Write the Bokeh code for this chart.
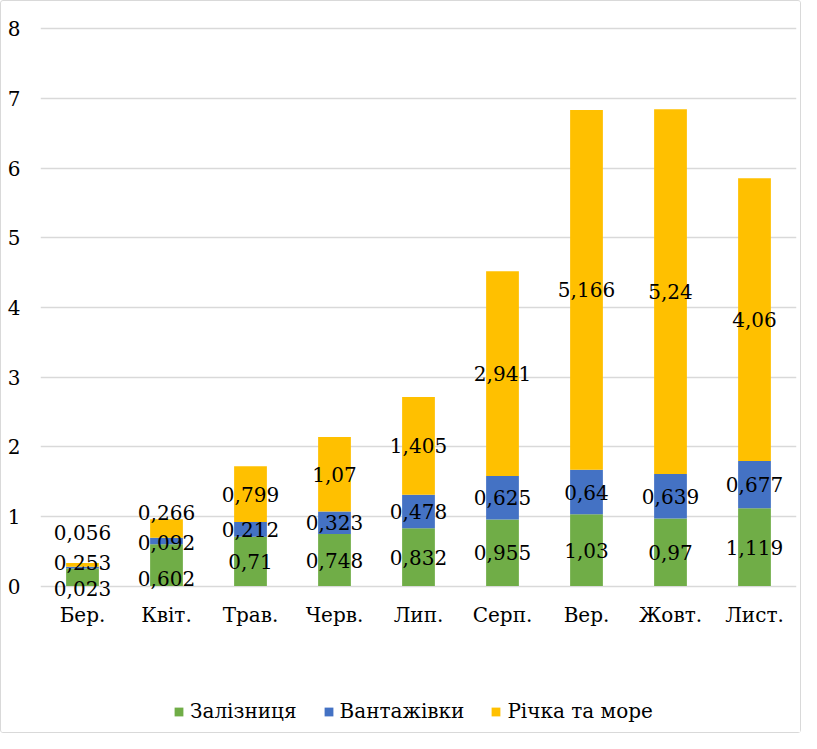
from bokeh.plotting import figure
from bokeh.models import ColumnDataSource, FixedTicker, Legend
from bokeh.embed import file_html
from bokeh.resources import INLINE
from bokeh.core.properties import value

months = ["Бер.", "Квіт.", "Трав.", "Черв.", "Лип.", "Серп.", "Вер.", "Жовт.", "Лист."]
rail = [0.253, 0.602, 0.71, 0.748, 0.832, 0.955, 1.03, 0.97, 1.119]
trucks = [0.023, 0.092, 0.212, 0.323, 0.478, 0.625, 0.64, 0.639, 0.677]
water = [0.056, 0.266, 0.799, 1.07, 1.405, 2.941, 5.166, 5.24, 4.06]
series_names = ["Залізниця", "Вантажівки", "Річка та море"]
y_ticks = [0, 1, 2, 3, 4, 5, 6, 7, 8]

colors = ["#70AD47", "#4472C4", "#FFC000"]
FONT = "DejaVu Serif"
FS = "20px"
CAT_LABEL_Y = -0.42   # category labels sit just under the zero line

nudge = {
    "rail": [-15, 13, 0, 0, 0, 0, 0, 0, 0],
    "trucks": [21, 2, 0, 0, 0, 0, 0, 0, 0],
    "water": [-32, -16, 0, 0, 0, 0, 0, 0, 0],
}

src = ColumnDataSource(dict(month=months, rail=rail, trucks=trucks, water=water))

# the frame reaches down to the legend row so that nothing below zero is clipped
p = figure(x_range=months, y_range=(-2.045, 8.05), frame_width=756, frame_height=703,
           output_backend="svg", toolbar_location=None,
           min_border_left=39, min_border_right=4, min_border_top=24, min_border_bottom=4)
p.styles = {"border": "1px solid #D9D9D9", "border-radius": "3px"}
p.outline_line_color = None

renderers = p.vbar_stack(["rail", "trucks", "water"], x="month", width=0.39,
                         color=colors, line_color=None, source=src)

keys = ["rail", "trucks", "water"]
vals = [rail, trucks, water]
base = [0.0] * len(months)
for key, v in zip(keys, vals):
    ys = [b + x / 2 for b, x in zip(base, v)]
    labels = [("%g" % x).replace(".", ",") for x in v]
    lsrc = ColumnDataSource(dict(x=months, y=ys, t=labels, off=nudge[key]))
    p.text(x="x", y="y", text="t", y_offset="off", source=lsrc,
           text_font=value(FONT), text_font_size=FS, text_color="black",
           text_align="center", text_baseline="middle")
    base = [b + x for b, x in zip(base, v)]

# category labels
csrc = ColumnDataSource(dict(x=months, y=[CAT_LABEL_Y] * len(months), t=months))
p.text(x="x", y="y", text="t", source=csrc,
       text_font=value(FONT), text_font_size=FS, text_color="black",
       text_align="center", text_baseline="middle")

p.yaxis.ticker = FixedTicker(ticks=y_ticks)
p.yaxis.axis_line_color = None
p.yaxis.major_tick_line_color = None
p.yaxis.minor_tick_line_color = None
p.yaxis.major_tick_out = 0
p.yaxis.major_tick_in = 0
p.yaxis.minor_tick_out = 0
p.yaxis.major_label_text_font = FONT
p.yaxis.major_label_text_font_size = FS
p.yaxis.major_label_text_color = "black"
p.yaxis.major_label_standoff = 20

p.xaxis.visible = False

p.xgrid.grid_line_color = None
p.ygrid.grid_line_color = "#D9D9D9"
p.ygrid.grid_line_width = 1.5

legend = Legend(items=[(n, [r]) for n, r in zip(series_names, renderers)],
                orientation="horizontal", location=(133, 5))
legend.label_text_font = FONT
legend.label_text_font_size = FS
legend.label_text_color = "black"
legend.glyph_width = 11
legend.glyph_height = 11
legend.label_height = 22
legend.label_standoff = 6
legend.spacing = 26
legend.padding = 0
legend.margin = 0
legend.border_line_color = None
legend.background_fill_alpha = 0
p.add_layout(legend, "center")

open("out.html", "w").write(file_html(p, INLINE))
